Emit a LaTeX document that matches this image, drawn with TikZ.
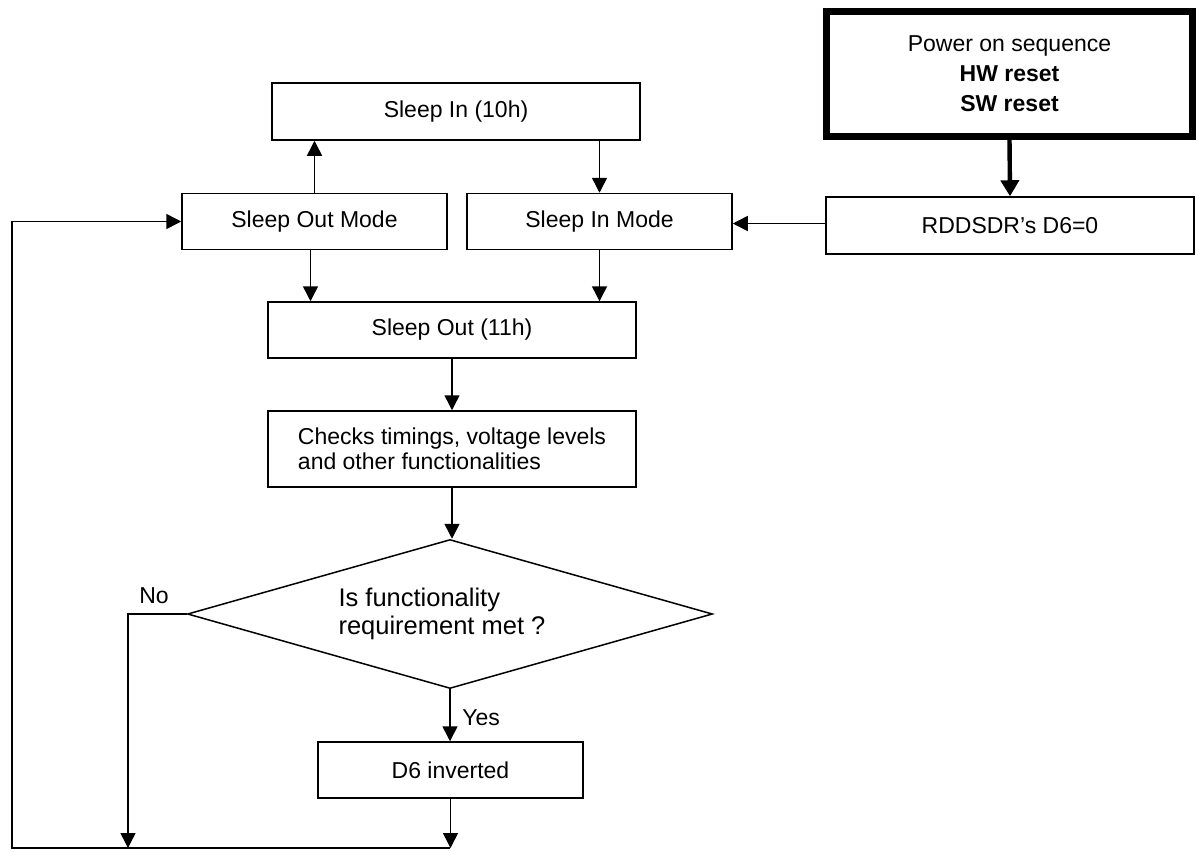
\documentclass[tikz,border=0pt]{standalone}
\usepackage{fontspec}
\setmainfont{Liberation Sans}
\usetikzlibrary{positioning, arrows.meta, shapes.geometric}
\tikzset{
  arr/.style={-{Triangle[length=7.5pt,width=7.5pt]}, line width=0.75pt},
  tarr/.style={-{Triangle[length=8pt,width=9pt]}, line width=2.2pt},
  blk/.style={draw, line width=0.75pt, align=center, inner sep=2pt,
    font=\fontsize{11.5pt}{12.5pt}\selectfont},
  pbox/.style={draw, line width=3.5pt, align=center, inner sep=2pt,
    font=\fontsize{11.5pt}{15pt}\selectfont},
  dec/.style={draw, diamond, aspect=3.5, line width=0.75pt, align=left, inner sep=0pt,
    font=\fontsize{12.75pt}{14pt}\selectfont},
  lab/.style={font=\fontsize{11.5pt}{12.5pt}\selectfont, inner sep=1pt}
}
\begin{document}
\begin{tikzpicture}[x=0.5pt, y=-0.5pt]
\useasboundingbox (0,0) rectangle (1198,851);
% ---- boxes (pixel grid, y downwards) ----
\node[pbox, minimum width=183pt, minimum height=62.5pt] (pwr) at (1009.5,74)
  {Power on sequence\\\textbf{HW reset}\\\textbf{SW reset}};
\node[blk, minimum width=184pt, minimum height=28.5pt] (rdd) at (1010,225.5) {RDDSDR’s D6=0};
\node[blk, minimum width=184pt, minimum height=28.5pt] (sin) at (456,111.5) {Sleep In (10h)};
\node[blk, minimum width=132.5pt, minimum height=28pt] (som) at (314.5,221.5) {Sleep Out Mode};
\node[blk, minimum width=132.5pt, minimum height=28pt] (sim) at (599.5,221.5) {Sleep In Mode};
\node[blk, minimum width=184pt, minimum height=28pt] (sout) at (452,330) {Sleep Out (11h)};
\node[blk, align=left, minimum width=184pt, minimum height=38pt] (chk) at (452,449)
  {Checks timings, voltage levels\\and other functionalities};
\node[dec, minimum width=262.5pt, minimum height=74.5pt] (req) at (450,614)
  {Is functionality\\requirement met ?\hspace*{8pt}};
\node[blk, minimum width=132.5pt, minimum height=28pt] (inv) at (450.5,770) {D6 inverted};
% ---- loop corners ----
\coordinate (botR) at (450,848);
\coordinate (botL) at (12,848);
\coordinate (noC) at (128,614);
% ---- connectors ----
\draw[tarr] (pwr.south) -- (rdd.north);
\draw[arr] ([yshift=1pt]rdd.west) -- ([yshift=1pt]sim.east |- rdd.west);
\draw[arr] (som.north) -- (som.north |- sin.south);
\draw[arr] (sim.north |- sin.south) -- (sim.north);
\draw[arr] ([xshift=-2pt]som.south) -- ([xshift=-2pt]som.south |- sout.north);
\draw[arr] (sim.south) -- (sim.south |- sout.north);
\draw[arr] (sout.south) -- (chk.north);
\draw[arr] (chk.south) -- (chk.south |- req.north);
\draw[arr] (req.south) -- (req.south |- inv.north);
\draw[arr] (inv.south) -- (inv.south |- botR);
\draw[arr] (req.west) -- (noC) -- (noC |- botR);
\draw[arr] (botR) -- (botL) -- (botL |- som.west) -- (som.west);
% ---- branch labels ----
\node[lab, anchor=south] at (154,606) {No};
\node[lab, anchor=west] at (460,718) {Yes};
\end{tikzpicture}
\end{document}
